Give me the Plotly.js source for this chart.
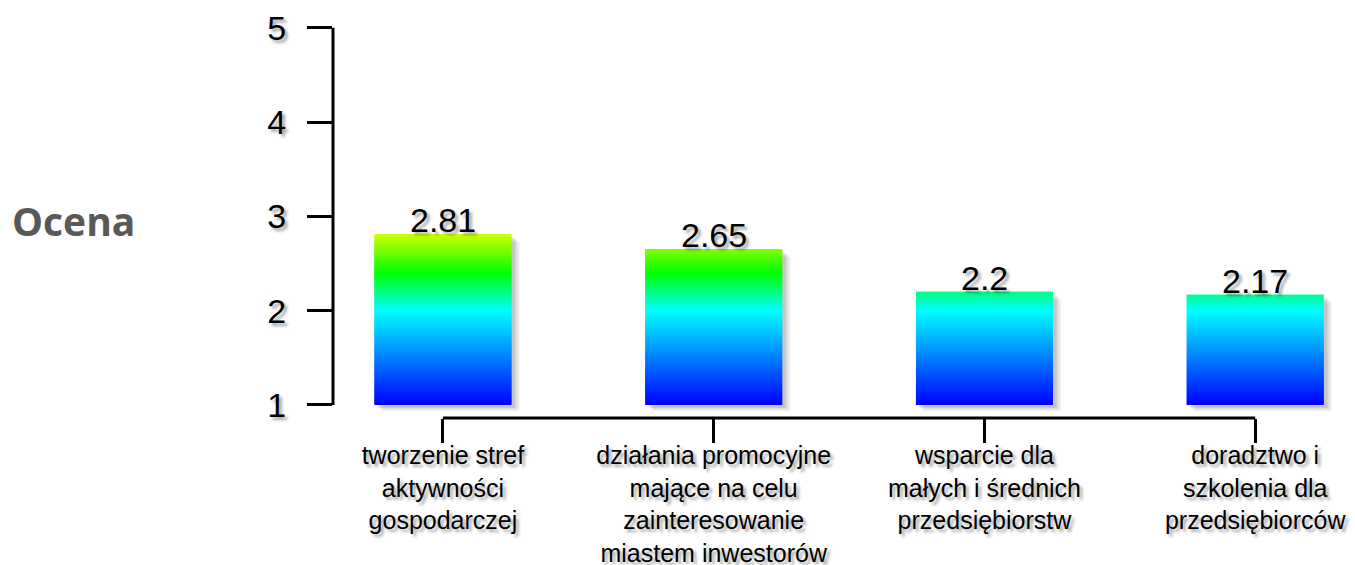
<!DOCTYPE html>
<html>
<head>
<meta charset="utf-8">
<script src="https://cdn.plot.ly/plotly-3.0.1.min.js"></script>
<style>
  html, body { margin: 0; padding: 0; background: #ffffff; }
  #chart { width: 1355px; height: 565px; }
</style>
</head>
<body>
<div id="chart"></div>
<script>
// ---- data ----
const categories = [
  "tworzenie stref<br>aktywności<br>gospodarczej",
  "działania promocyjne<br>mające na celu<br>zainteresowanie<br>miastem inwestorów",
  "wsparcie dla<br>małych i średnich<br>przedsiębiorstw",
  "doradztwo i<br>szkolenia dla<br>przedsiębiorców"
];
const values = [2.81, 2.65, 2.2, 2.17];
const yTicks = [1, 2, 3, 4, 5];
const yBase = 1;

// gradient colour stops (value -> rgb)
const colorStops = [
  [1.0, [0, 0, 255]],
  [2.0, [0, 255, 255]],
  [2.4, [0, 255, 0]],
  [2.9, [255, 255, 0]]
];

function colorAt(v) {
  if (v <= colorStops[0][0]) return 'rgb(' + colorStops[0][1].join(',') + ')';
  for (let i = 1; i < colorStops.length; i++) {
    const [v1, c1] = colorStops[i];
    const [v0, c0] = colorStops[i - 1];
    if (v <= v1) {
      const t = (v - v0) / (v1 - v0);
      const c = c0.map((a, k) => Math.round(a + (c1[k] - a) * t));
      return 'rgb(' + c.join(',') + ')';
    }
  }
  return 'rgb(' + colorStops[colorStops.length - 1][1].join(',') + ')';
}

const xs = categories.map((c, i) => i);
const barWidth = 0.506;
const step = 0.01;
const textShadow = '3px 3px 3px rgba(0,0,0,0.35)';

// shadow layers
const traces = [];
const shadowLayers = [[0.030, 0.065, 0.06], [0.022, 0.048, 0.08], [0.014, 0.032, 0.10]];
shadowLayers.forEach(([dx, dy, a]) => {
  traces.push({
    type: 'bar', x: xs, base: values.map(() => yBase - dy), y: values.map(v => v - yBase - dy * 0.2),
    width: barWidth, offset: -barWidth / 2 + dx,
    marker: { color: 'rgba(0,0,0,' + a + ')', line: { width: 0 } },
    hoverinfo: 'skip', showlegend: false
  });
});

// gradient segments
const sx = [], sb = [], sy = [], sc = [];
values.forEach((v, i) => {
  for (let b = yBase; b < v - 1e-9; b += step) {
    const top = Math.min(b + step * 2, v);
    sx.push(xs[i]); sb.push(b); sy.push(top - b); sc.push(colorAt(b + step / 2));
  }
});
traces.push({
  type: 'bar', x: sx, base: sb, y: sy, width: barWidth,
  marker: { color: sc, line: { width: 0 } },
  hoverinfo: 'skip', showlegend: false
});

// value labels as annotations anchored at each bar top
const valueLabels = values.map((v, i) => ({
  text: String(v), x: xs[i], y: v, xref: 'x', yref: 'y',
  xanchor: 'center', yanchor: 'bottom', yshift: -7, showarrow: false,
  font: { family: 'Liberation Sans, Arial, sans-serif', size: 34, color: '#000', shadow: textShadow }
}));

const layout = {
  width: 1355, height: 565,
  margin: { l: 333, r: 5, t: 23, b: 147 },
  paper_bgcolor: '#ffffff', plot_bgcolor: '#ffffff',
  barmode: 'overlay',
  showlegend: false,
  xaxis: {
    range: [-0.406, 3.35],
    tickmode: 'array', tickvals: xs, ticktext: categories,
    ticks: 'outside', ticklen: 24, tickwidth: 3, tickcolor: '#000',
    showline: false, showgrid: false, zeroline: false,
    tickfont: { family: 'Liberation Sans, Arial, sans-serif', size: 25, color: '#000', shadow: textShadow },
    ticklabelstandoff: -9
  },
  yaxis: {
    range: [0.862, 5.05],
    tickmode: 'array', tickvals: yTicks, ticktext: yTicks.map(String),
    ticks: 'outside', ticklen: 25, tickwidth: 3, tickcolor: '#000',
    showline: false, showgrid: false, zeroline: false,
    tickfont: { family: 'Liberation Sans, Arial, sans-serif', size: 34, color: '#000', shadow: textShadow },
    ticklabelstandoff: 14
  },
  shapes: [
    { type: 'line', xref: 'paper', yref: 'y', x0: 0, x1: 0, y0: yTicks[0], y1: yTicks[yTicks.length - 1],
      line: { color: '#000', width: 3 } },
    { type: 'line', xref: 'x', yref: 'paper', x0: xs[0], x1: xs[xs.length - 1], y0: 0, y1: 0,
      line: { color: '#000', width: 3 } }
  ],
  annotations: [
    { text: 'Ocena', xref: 'paper', yref: 'paper', x: -0.2547, y: 0.501,
      xanchor: 'center', yanchor: 'middle', showarrow: false,
      font: { family: 'Open Sans, sans-serif', size: 39, color: '#595959', weight: 'bold' } }
  ].concat(valueLabels)
};

Plotly.newPlot('chart', traces, layout, { displayModeBar: false, staticPlot: true });
</script>
</body>
</html>
